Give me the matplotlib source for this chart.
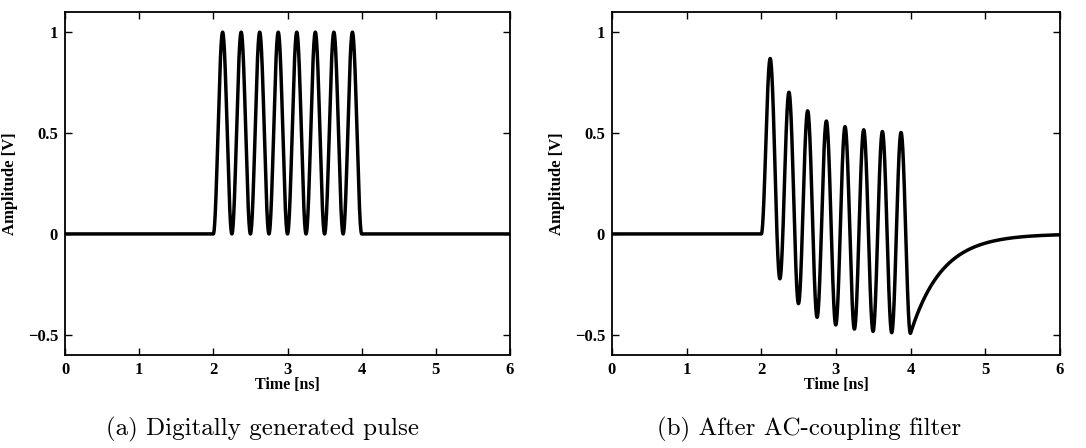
import numpy as np
import matplotlib
matplotlib.use("Agg")
import matplotlib.pyplot as plt

# ---- data ----
pulse_start_ns = 2.0      # burst begins
pulse_end_ns = 4.0        # burst ends
n_cycles = 8              # raised-cosine cycles in the burst
peak_amplitude = 1.0      # V
ac_time_constant = 0.42   # ns, AC-coupling (RC high-pass) time constant
time_range = [0, 6]
x_ticks = [0, 1, 2, 3, 4, 5, 6]
y_ticks = [-0.5, 0, 0.5, 1]
y_ticklabels = ["\u22120.5", "0", "0.5", "1"]
y_range = [-0.6, 1.1]
captions = ["(a) Digitally generated pulse", "(b) After AC-coupling filter"]

# ---- signals ----
t = np.linspace(time_range[0], time_range[1], 6001)
dt = t[1] - t[0]
freq = n_cycles / (pulse_end_ns - pulse_start_ns)
inside = (t >= pulse_start_ns) & (t <= pulse_end_ns)
pulse = np.where(inside, 0.5 * peak_amplitude * (1 - np.cos(2 * np.pi * freq * (t - pulse_start_ns))), 0.0)

# first-order RC high-pass (AC coupling)
a = ac_time_constant / (ac_time_constant + dt)
filtered = np.zeros_like(pulse)
for i in range(1, len(t)):
    filtered[i] = a * (filtered[i - 1] + pulse[i] - pulse[i - 1])

fig = plt.figure(figsize=(10.86, 4.48), dpi=100)
W, H = 1086, 448
axes_px = [(65, 12, 510, 355), (612, 12, 1060, 355)]
ylabel_x = [18, 565]
caption_x = [262, 809]
signals = [pulse, filtered]

for k in range(2):
    l, tp, r, b = axes_px[k]
    ax = fig.add_axes([l / W, 1 - b / H, (r - l) / W, (b - tp) / H])
    ax.plot(t, signals[k], color="black", lw=2.5)
    ax.set_xlim(time_range)
    ax.set_ylim(y_range)
    ax.set_xticks(x_ticks)
    ax.set_yticks(y_ticks)
    ax.set_yticklabels(y_ticklabels)
    ax.tick_params(direction="in", top=True, right=True, length=5, width=1,
                   labelsize=12, pad=5)
    for lab in ax.get_xticklabels() + ax.get_yticklabels():
        lab.set_fontfamily("Liberation Serif")
        lab.set_fontweight("bold")
    for s in ax.spines.values():
        s.set_linewidth(1.3)
    ax.set_xlabel("Time [ns]", fontfamily="Liberation Serif", fontsize=11.5,
                  fontweight="bold", labelpad=-1)
    ax.set_ylabel("Amplitude [V]", fontfamily="Liberation Serif", fontsize=12,
                  fontweight="bold")
    ax.yaxis.set_label_coords(ylabel_x[k] / W, 0.5 * ((1 - b / H) + (1 - tp / H)),
                              transform=fig.transFigure)
    fig.text(caption_x[k] / W, 1 - 429 / H, captions[k], ha="center", va="center",
             fontsize=18, fontfamily="cmr10")

fig.savefig("out.png", dpi=100)
